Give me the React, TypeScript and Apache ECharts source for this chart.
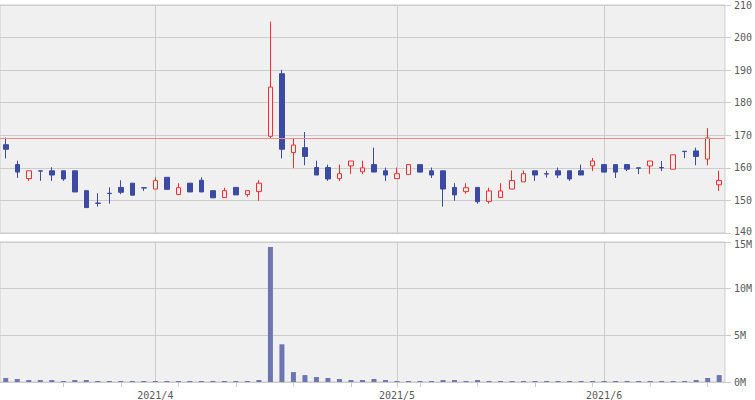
import { useEffect, useRef } from 'react';
import * as echarts from 'echarts';

const dates = [
  '2021-03-15', '2021-03-16', '2021-03-17', '2021-03-18', '2021-03-19',
  '2021-03-22', '2021-03-23', '2021-03-24', '2021-03-25', '2021-03-26',
  '2021-03-29', '2021-03-30', '2021-03-31',
  '2021-04-01', '2021-04-02', '2021-04-05', '2021-04-06', '2021-04-07', '2021-04-08', '2021-04-09',
  '2021-04-12', '2021-04-13', '2021-04-14', '2021-04-15', '2021-04-16',
  '2021-04-19', '2021-04-20', '2021-04-21', '2021-04-22', '2021-04-23',
  '2021-04-26', '2021-04-27', '2021-04-28', '2021-04-30',
  '2021-05-06', '2021-05-07', '2021-05-10', '2021-05-11', '2021-05-12', '2021-05-13', '2021-05-14',
  '2021-05-17', '2021-05-18', '2021-05-19', '2021-05-20', '2021-05-21',
  '2021-05-24', '2021-05-25', '2021-05-26', '2021-05-27', '2021-05-28', '2021-05-31',
  '2021-06-01', '2021-06-02', '2021-06-03', '2021-06-04',
  '2021-06-07', '2021-06-08', '2021-06-09', '2021-06-10', '2021-06-11',
  '2021-06-14', '2021-06-15',
];

const open = [
  167.1, 161.0, 156.7, 159.1, 159.1, 159.1, 159.1, 153.0, 149.2, 152.2,
  154.0, 155.3, 153.9, 153.5, 157.1, 151.8, 155.3, 156.2, 153.0, 150.9,
  154.0, 151.8, 152.7, 169.7, 188.9, 164.7, 166.2, 160.1, 160.1, 156.7,
  160.6, 158.8, 161.0, 159.1, 156.7, 158.0, 161.0, 159.1, 159.1, 154.0,
  152.7, 154.0, 149.7, 150.9, 153.5, 155.7, 159.1, 158.2, 159.1, 159.1,
  159.1, 160.6, 161.0, 161.0, 161.0, 160.0, 160.6, 160.1, 159.6, 165.1,
  165.2, 162.7, 154.8,
];
const high = [
  169.3, 162.2, 159.1, 159.1, 160.2, 159.1, 159.1, 153.0, 152.2, 154.0,
  156.2, 155.3, 153.9, 157.1, 157.1, 155.3, 155.3, 157.1, 153.0, 153.9,
  154.0, 153.0, 156.2, 204.9, 190.1, 169.2, 171.0, 162.2, 161.0, 161.0,
  162.1, 162.2, 166.2, 160.1, 160.1, 161.0, 161.0, 160.1, 159.1, 155.3,
  155.3, 154.0, 153.9, 155.3, 159.2, 159.2, 159.1, 159.1, 160.1, 159.1,
  161.0, 163.0, 161.0, 161.0, 161.0, 160.0, 162.1, 162.1, 164.0, 165.1,
  166.2, 172.2, 159.1,
];
const low = [
  162.9, 156.9, 156.0, 156.0, 156.0, 156.0, 152.6, 147.8, 148.1, 149.0,
  151.9, 151.6, 152.9, 153.5, 153.4, 151.8, 152.6, 152.6, 150.8, 150.9,
  151.7, 151.1, 149.9, 169.1, 162.9, 159.9, 160.8, 157.8, 156.0, 156.0,
  158.1, 158.1, 158.7, 156.0, 156.7, 158.0, 158.7, 156.9, 148.1, 149.9,
  152.0, 149.0, 149.0, 150.9, 153.5, 155.7, 156.0, 157.0, 156.9, 156.0,
  157.8, 159.0, 158.7, 156.9, 159.0, 158.1, 158.1, 159.0, 159.6, 163.0,
  160.8, 160.8, 152.9,
];
const close = [
  165.7, 158.7, 159.1, 159.0, 157.8, 156.6, 152.6, 147.8, 149.1, 152.1,
  152.5, 151.6, 153.8, 156.1, 153.4, 153.9, 152.6, 152.6, 150.8, 153.0,
  151.7, 153.0, 155.3, 184.8, 165.7, 167.0, 163.5, 157.8, 156.6, 158.2,
  162.1, 160.0, 158.7, 157.8, 158.2, 161.0, 158.7, 157.8, 153.5, 151.7,
  153.9, 149.6, 152.9, 152.9, 156.1, 158.2, 157.8, 158.1, 157.8, 156.6,
  157.8, 162.1, 158.7, 158.7, 159.6, 159.9, 162.1, 160.0, 164.0, 165.0,
  163.5, 169.2, 156.1,
];
// volume in millions of shares
const volumeM = [
  0.43, 0.32, 0.21, 0.21, 0.21, 0.11, 0.21, 0.21, 0.11, 0.11,
  0.11, 0.11, 0.11, 0.11, 0.11, 0.11, 0.11, 0.11, 0.11, 0.11,
  0.11, 0.11, 0.21, 14.47, 4.04, 1.06, 0.74, 0.53, 0.43, 0.32,
  0.21, 0.21, 0.32, 0.21, 0.11, 0.11, 0.11, 0.11, 0.21, 0.21,
  0.11, 0.21, 0.11, 0.11, 0.11, 0.11, 0.11, 0.11, 0.11, 0.11,
  0.11, 0.11, 0.11, 0.11, 0.11, 0.11, 0.11, 0.11, 0.11, 0.11,
  0.21, 0.43, 0.74,
];
const referencePrice = 169.1;
const priceMin = 140;
const priceMax = 210;
const priceStep = 10;
const volMin = 0;
const volMax = 15;
const volStep = 5;

const parsed = dates.map((d) => {
  const [y, m, dd] = d.split('-').map(Number);
  return new Date(y, m - 1, dd);
});
const isMonthStart = parsed.map((d, i) => i > 0 && d.getMonth() !== parsed[i - 1].getMonth());
const isWeekStart = parsed.map((d, i) => i > 0 && d.getDay() < parsed[i - 1].getDay());

const FONT = 'DejaVu Sans Mono';
const LABEL_COLOR = '#5a5a5a';
const GRID_LINE = '#cccccc';
const UP = '#ff2b2b';
const DOWN = '#3c4aa3';
const VOL = '#6d75b3';

export default function App() {
  const ref = useRef<HTMLDivElement>(null);
  useEffect(() => {
    if (!ref.current) return;
    const chart = echarts.init(ref.current, null, { renderer: 'svg' });
    const candles = dates.map((_, i) => [open[i], close[i], low[i], high[i]]);
    const labelBase = { color: LABEL_COLOR, fontFamily: FONT, fontSize: 10 };
    chart.setOption({
      animation: false,
      backgroundColor: '#ffffff',
      grid: [
        { left: 0, right: 29, top: 3, height: 230, show: true, backgroundColor: '#f0f0f0', borderColor: GRID_LINE, borderWidth: 1 },
        { left: 0, right: 29, top: 242, height: 140, show: true, backgroundColor: '#f0f0f0', borderColor: GRID_LINE, borderWidth: 1 },
      ],
      xAxis: [
        {
          type: 'category', gridIndex: 0, data: dates, boundaryGap: true,
          axisLine: { show: false }, axisTick: { show: false }, axisLabel: { show: false },
          splitLine: { show: true, interval: (i: number) => isMonthStart[i], alignWithLabel: true, lineStyle: { color: GRID_LINE, width: 1 } },
        },
        {
          type: 'category', gridIndex: 1, data: dates, boundaryGap: true,
          axisLine: { show: true, lineStyle: { color: GRID_LINE } },
          axisTick: { show: true, alignWithLabel: true, interval: (i: number) => isWeekStart[i], length: 5, lineStyle: { color: GRID_LINE } },
          axisLabel: {
            show: true, interval: (i: number) => isMonthStart[i], margin: 8,
            ...labelBase,
            formatter: (v: string) => { const [y, m] = v.split('-'); return `${y}/${Number(m)}`; },
          },
          splitLine: { show: true, interval: (i: number) => isMonthStart[i], alignWithLabel: true, lineStyle: { color: GRID_LINE, width: 1 } },
        },
      ],
      yAxis: [
        {
          type: 'value', gridIndex: 0, position: 'right', min: priceMin, max: priceMax, interval: priceStep,
          axisLine: { show: false },
          axisTick: { show: true, length: 6, lineStyle: { color: GRID_LINE } },
          axisLabel: {
            ...labelBase, margin: 9,
            formatter: (v: number) => (v === priceMin ? `{lo|${v}}` : `${v}`),
            rich: { lo: { ...labelBase, padding: [0, 0, 4, 0] } },
          },
          splitLine: { show: true, lineStyle: { color: GRID_LINE, width: 1 } },
        },
        {
          type: 'value', gridIndex: 1, position: 'right', min: volMin, max: volMax, interval: volStep,
          axisLine: { show: false },
          axisTick: { show: true, length: 6, lineStyle: { color: GRID_LINE } },
          axisLabel: {
            ...labelBase, margin: 9,
            formatter: (v: number) => (v === volMax ? `{hi|${v}M}` : `${v}M`),
            rich: { hi: { ...labelBase, padding: [4, 0, 0, 0] } },
          },
          splitLine: { show: true, lineStyle: { color: GRID_LINE, width: 1 } },
        },
      ],
      series: [
        {
          type: 'candlestick', xAxisIndex: 0, yAxisIndex: 0, data: candles, barWidth: 5,
          itemStyle: { color: '#f0f0f0', color0: DOWN, borderColor: UP, borderColor0: DOWN, borderWidth: 1 },
          markLine: {
            silent: true, symbol: 'none', label: { show: false },
            lineStyle: { color: '#f28a8a', width: 1, type: 'solid' },
            data: [{ yAxis: referencePrice }],
          },
        },
        {
          type: 'bar', xAxisIndex: 1, yAxisIndex: 1, data: volumeM, barWidth: 5,
          itemStyle: { color: VOL },
        },
      ],
    });
    return () => chart.dispose();
  }, []);
  return <div ref={ref} style={{ position: 'absolute', left: 0, top: 0, width: 755, height: 400 }} />;
}
